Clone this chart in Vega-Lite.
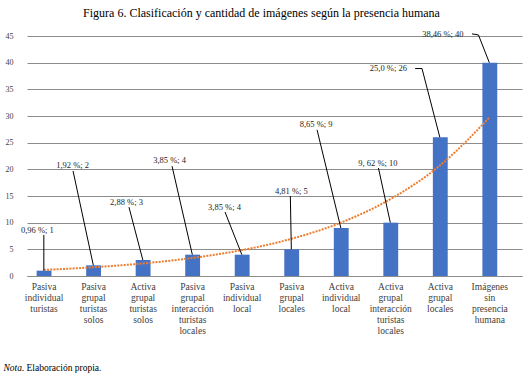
{
  "$schema": "https://vega.github.io/schema/vega-lite/v6.json",
  "autosize": "none",
  "width": 495,
  "height": 240,
  "padding": {"left": 27, "top": 36, "right": 7, "bottom": 100},
  "background": "white",
  "config": {
    "view": {"stroke": null},
    "font": "Liberation Serif",
    "axisY": {
      "labelOverlap": false,
      "labelFont": "Liberation Serif",
      "labelFontSize": 8,
      "labelColor": "#404040",
      "labelPadding": 14,
      "ticks": false,
      "tickSize": 0,
      "domain": false,
      "grid": true,
      "gridColor": "#8c8c8c",
      "gridWidth": 1
    }
  },
  "title": {
    "text": "Figura 6. Clasificación y cantidad de imágenes según la presencia humana",
    "font": "Liberation Serif",
    "fontSize": 12,
    "fontWeight": "normal",
    "color": "#000000",
    "anchor": "middle",
    "offset": 10,
    "dx": -13
  },
  "datasets": {
    "bars": [
      {"cat": "Pasiva individual turistas", "n": 1, "i": 0, "trend": 1.14},
      {"cat": "Pasiva grupal turistas solos", "n": 2, "i": 1, "trend": 1.64},
      {"cat": "Activa grupal turistas solos", "n": 3, "i": 2, "trend": 2.35},
      {"cat": "Pasiva grupal interacción turistas locales", "n": 4, "i": 3, "trend": 3.38},
      {"cat": "Pasiva individual local", "n": 4, "i": 4, "trend": 4.85},
      {"cat": "Pasiva grupal locales", "n": 5, "i": 5, "trend": 6.97},
      {"cat": "Activa individual local", "n": 9, "i": 6, "trend": 10.0},
      {"cat": "Activa grupal interacción turistas locales", "n": 10, "i": 7, "trend": 14.4},
      {"cat": "Activa grupal locales", "n": 26, "i": 8, "trend": 20.7},
      {"cat": "Imágenes sin presencia humana", "n": 40, "i": 9, "trend": 29.7}
    ],
    "labels": [
      {"t": "0,96 %; 1", "u": -0.13, "v": 8.6},
      {"t": "1,92 %; 2", "u": 0.58, "v": 20.8},
      {"t": "2,88 %; 3", "u": 1.67, "v": 13.9},
      {"t": "3,85 %; 4", "u": 2.54, "v": 21.75},
      {"t": "3,85 %; 4", "u": 3.65, "v": 12.9},
      {"t": "4,81 %; 5", "u": 5.0, "v": 15.9},
      {"t": "8,65 %; 9", "u": 5.5, "v": 28.5},
      {"t": "9, 62 %; 10", "u": 6.75, "v": 21.2},
      {"t": "25,0 %; 26", "u": 6.96, "v": 39.0},
      {"t": "38,46 %; 40", "u": 8.06, "v": 45.4}
    ],
    "leaders": [
      {"id": 1, "o": 1, "u": 0, "v": 7.7},
      {"id": 1, "o": 2, "u": 0, "v": 1},
      {"id": 2, "o": 1, "u": 0.59, "v": 19.7},
      {"id": 2, "o": 2, "u": 1, "v": 2},
      {"id": 3, "o": 1, "u": 1.72, "v": 12.9},
      {"id": 3, "o": 2, "u": 2, "v": 3},
      {"id": 4, "o": 1, "u": 2.59, "v": 20.6},
      {"id": 4, "o": 2, "u": 3, "v": 4},
      {"id": 5, "o": 1, "u": 3.66, "v": 12.0},
      {"id": 5, "o": 2, "u": 4, "v": 4},
      {"id": 6, "o": 1, "u": 4.98, "v": 15.0},
      {"id": 6, "o": 2, "u": 5, "v": 5},
      {"id": 7, "o": 1, "u": 5.52, "v": 27.4},
      {"id": 7, "o": 2, "u": 6, "v": 9},
      {"id": 8, "o": 1, "u": 6.76, "v": 20.25},
      {"id": 8, "o": 2, "u": 7, "v": 10},
      {"id": 9, "o": 1, "u": 7.5, "v": 38.9},
      {"id": 9, "o": 2, "u": 7.64, "v": 38.9},
      {"id": 9, "o": 3, "u": 8, "v": 26},
      {"id": 10, "o": 1, "u": 8.65, "v": 45.4},
      {"id": 10, "o": 2, "u": 8.78, "v": 45.2},
      {"id": 10, "o": 3, "u": 9, "v": 40}
    ]
  },
  "layer": [
    {
      "data": {"name": "bars"},
      "mark": {"type": "bar", "color": "#4472C4"},
      "encoding": {
        "x": {
          "field": "cat",
          "type": "nominal",
          "sort": null,
          "scale": {"paddingInner": 0.7, "paddingOuter": 0.347, "align": 0.28},
          "axis": {
            "labelExpr": "split(datum.value, ' ')",
            "labelAngle": 0,
            "labelFont": "Liberation Serif",
            "labelFontSize": 9.5,
            "labelColor": "#404040",
            "labelLineHeight": 11,
            "labelBaseline": "top",
            "labelPadding": 5,
            "labelOverlap": false,
            "labelLimit": 200,
            "ticks": false,
            "tickSize": 0,
            "domain": true,
            "domainColor": "#8c8c8c",
            "grid": false,
            "title": "Elaboración propia.",
            "titleFont": "Liberation Serif",
            "titleFontSize": 9.5,
            "titleFontWeight": "normal",
            "titleColor": "#000000",
            "titleAnchor": "start",
            "titleAlign": "left",
            "titleBaseline": "middle",
            "titleX": -1,
            "titleY": 91
          }
        },
        "y": {
          "field": "n",
          "type": "quantitative",
          "scale": {"domain": [0, 45], "nice": false},
          "axis": {
            "values": [0, 5, 10, 15, 20, 25, 30, 35, 40, 45],
            "title": "Nota.",
            "titleFont": "Liberation Serif",
            "titleFontSize": 9.5,
            "titleFontStyle": "italic",
            "titleFontWeight": "normal",
            "titleColor": "#000000",
            "titleAngle": 0,
            "titleAlign": "left",
            "titleBaseline": "middle",
            "titleX": -24,
            "titleY": 331
          }
        }
      }
    },
    {
      "data": {"name": "bars"},
      "mark": {"type": "line", "color": "#ED7D31", "strokeWidth": 2, "strokeDash": [2, 1.2], "interpolate": "monotone"},
      "encoding": {
        "x": {"field": "i", "type": "quantitative", "scale": {"domain": [-0.34, 9.66], "nice": false, "zero": false}, "axis": null},
        "y": {"field": "trend", "type": "quantitative", "axis": {"values": [0, 5, 10, 15, 20, 25, 30, 35, 40, 45]}}
      }
    },
    {
      "data": {"name": "leaders"},
      "mark": {"type": "line", "color": "#000000", "strokeWidth": 1},
      "encoding": {
        "x": {"field": "u", "type": "quantitative", "scale": {"domain": [-0.34, 9.66], "nice": false, "zero": false}, "axis": null},
        "y": {"field": "v", "type": "quantitative", "axis": {"values": [0, 5, 10, 15, 20, 25, 30, 35, 40, 45]}},
        "detail": {"field": "id", "type": "nominal"},
        "order": {"field": "o", "type": "quantitative"}
      }
    },
    {
      "data": {"name": "labels"},
      "mark": {"type": "text", "font": "Liberation Serif", "fontSize": 8.5, "color": "#262626", "baseline": "middle", "align": "center"},
      "encoding": {
        "x": {"field": "u", "type": "quantitative", "scale": {"domain": [-0.34, 9.66], "nice": false, "zero": false}, "axis": null},
        "y": {"field": "v", "type": "quantitative", "axis": {"values": [0, 5, 10, 15, 20, 25, 30, 35, 40, 45]}},
        "text": {"field": "t", "type": "nominal"}
      }
    }
  ],
  "resolve": {"scale": {"x": "independent"}, "axis": {"x": "independent"}}
}
